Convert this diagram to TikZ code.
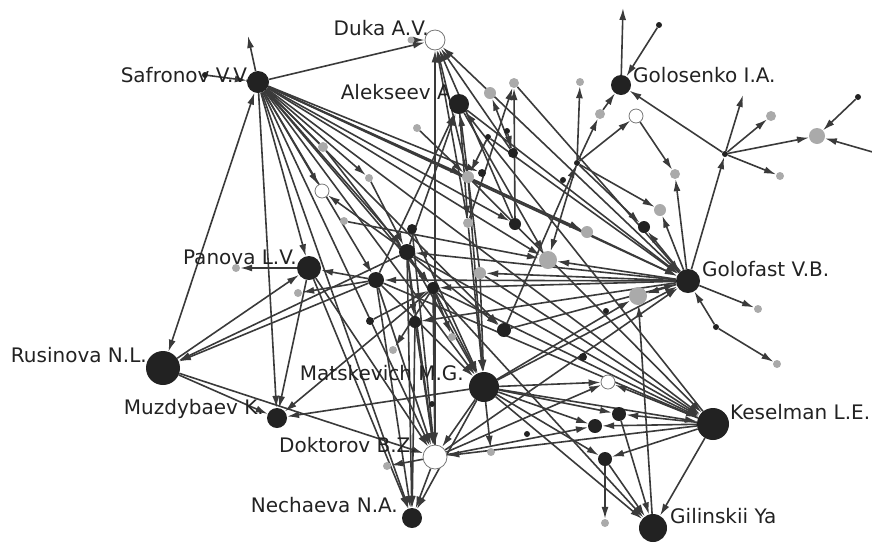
\documentclass[tikz,border=0pt]{standalone}
\usepackage{fontspec}
\setmainfont{DejaVu Sans}
\usepackage{tikz}
\usetikzlibrary{arrows.meta,backgrounds}
\definecolor{Nblk}{RGB}{34,34,34}
\definecolor{Ngry}{RGB}{170,170,170}
\definecolor{Nedg}{RGB}{58,58,58}

\begin{document}
\begin{tikzpicture}[x=1pt,y=-1pt,
    blk/.style={circle,fill=Nblk,inner sep=0pt,minimum size=#1},
    gry/.style={circle,fill=Ngry,inner sep=0pt,minimum size=#1},
    wht/.style={circle,fill=white,draw=Ngry!70!black,line width=0.8pt,inner sep=0pt,minimum size=#1},
    lbl/.style={inner sep=0pt,text=Nblk,font=\fontsize{20}{24}\selectfont},
    edge/.style={draw=Nedg,line width=1.6pt,-{Latex[length=12pt,width=7pt]}},
    bedge/.style={edge,{Latex[length=12pt,width=7pt]}-{Latex[length=12pt,width=7pt]}}]
    \useasboundingbox (0,0) rectangle (872,542);

    \node[blk=22pt] (saf) at (258,82) {};
    \node[wht=20pt] (duka) at (435,40) {};
    \node[blk=20pt] (alek) at (459,104) {};
    \node[blk=20pt] (gols) at (621,85) {};
    \node[blk=24pt] (pan) at (309,268) {};
    \node[blk=24pt] (golf) at (688,281) {};
    \node[blk=34pt] (rus) at (163,368) {};
    \node[blk=30pt] (mats) at (484,387) {};
    \node[blk=20pt] (muz) at (277,418) {};
    \node[blk=32pt] (kes) at (713,424) {};
    \node[wht=24pt] (dok) at (435,457) {};
    \node[blk=20pt] (nech) at (412,518) {};
    \node[blk=28pt] (gil) at (653,528) {};

    \node[lbl,anchor=mid east] (tsaf) at (251,80) {Safronov V.V.};
    \node[lbl,anchor=mid east] (tduka) at (429,33) {Duka A.V.};
    \node[lbl,anchor=mid east] (talek) at (451,97) {Alekseev A};
    \node[lbl,anchor=mid west] (tgols) at (633,80) {Golosenko I.A.};
    \node[lbl,anchor=mid east] (tpan) at (297,262) {Panova L.V.};
    \node[lbl,anchor=mid west] (tgolf) at (702,274) {Golofast V.B.};
    \node[lbl,anchor=mid east] (trus) at (147,360) {Rusinova N.L.};
    \node[lbl,anchor=mid east] (tmats) at (464,378) {Matskevich M.G.};
    \node[lbl,anchor=mid east] (tmuz) at (264,412) {Muzdybaev K.};
    \node[lbl,anchor=mid west] (tkes) at (730,417) {Keselman L.E.};
    \node[lbl,anchor=mid east] (tdok) at (417,450) {Doktorov B.Z.};
    \node[lbl,anchor=mid east] (tnech) at (398,510) {Nechaeva N.A.};
    \node[lbl,anchor=mid west] (tgil) at (670,521) {Gilinskii Ya};

    \foreach \n/\x/\y/\s in {ga/411/40/7pt, gb/490/93/12pt, gc/514/83/10pt, gd/580/82/8pt,
        ge/600/114/10pt, gf/771/116/10pt, gg/817/136/16pt, gh/780/176/8pt, gi/675/174/10pt,
        gj/660/210/12pt, gk/587/232/12pt, gl/468/177/12pt, gm/468/223/10pt, gn/548/260/18pt,
        go/480/273/12pt, gp/323/147/10pt, gq/369/178/8pt, gr/344/221/8pt, gs/417/128/8pt,
        gt/236/268/8pt, gu/298/293/8pt, gv/393/350/8pt, gw/452/337/8pt, gx/638/296/18pt,
        gy/758/309/8pt, gz/777/364/8pt, gaa/491/452/8pt, gab/387/466/8pt, gac/605/523/8pt}
        \node[gry=\s] (\n) at (\x,\y) {};

    \foreach \n/\x/\y/\s in {ka/205/75/6pt, kb/659/25/6pt, kc/858/97/6pt, kd/725/154/6pt,
        ke/577/163/6pt, kf/563/180/6pt, kg/513/153/10pt, kh/488/137/6pt, ki/507/131/6pt,
        kj/482/173/8pt, kk/515/224/12pt, kl/644/227/12pt, km/412/229/10pt, kn/407/252/16pt,
        ko/376/280/16pt, kp/433/288/12pt, kq/415/322/12pt, kr/370/321/8pt, ks/504/330/14pt,
        kt/606/311/6pt, ku/716/327/6pt, kv/583/357/8pt, kw/619/414/14pt, kx/595/426/14pt,
        ky/605/459/14pt, kz/432/404/6pt, kaa/527/434/6pt}
        \node[blk=\s] (\n) at (\x,\y) {};

    \node[wht=14pt] (wa) at (636,116) {};
    \node[wht=14pt] (wb) at (322,191) {};
    \node[wht=14pt] (wc) at (608,382) {};

    \coordinate (fa) at (248,36);
    \coordinate (fb) at (623,8);
    \coordinate (fc) at (743,95);
    \coordinate (fd) at (876,153);

    \begin{scope}[on background layer]
    \draw[bedge] (saf) -- (rus);
    \foreach \a/\b in {saf/fa, ka/saf, saf/duka, saf/muz, saf/pan, saf/nech, saf/dok, saf/golf,
        saf/wb, gp/saf, saf/gq, saf/kn, saf/ko, saf/kp, saf/mats, saf/gn, saf/gl, saf/kk,
        saf/kes, saf/kj, saf/gk, saf/ks,
        dok/duka, golf/duka, gl/duka, kg/duka, ga/duka, gm/duka, kk/duka,
        kn/alek, alek/golf, kes/alek, ko/alek, alek/gm, alek/gn, go/alek, gs/gl,
        kg/gb, gm/gc, kk/gc, kh/gl, ki/kg,
        gols/fb, kb/gols, ke/ge, ge/gols, ke/wa, kd/gols, wa/gi, ke/gd, ke/kl, ke/gn, ks/ke, ke/gj,
        golf/kd, kd/fc, kd/gf, kd/gg, kd/gh, kc/gg, fd/gg,
        golf/gi, golf/gj, golf/kl, golf/gy, ku/golf, ku/gz, golf/gx, golf/gn, golf/go, golf/kn,
        golf/ko, golf/kp, golf/kq, mats/golf, gc/golf, gl/golf, kh/golf, ks/golf, dok/golf,
        kes/gil, kes/dok, kes/wc, kes/kw, kes/kx, kes/ky, mats/kes, kn/kes, ko/kes, kp/kes,
        go/kes, gl/kes, gil/gx,
        mats/gil, kp/gil, ky/gil, kw/gil, ky/gac,
        mats/dok, mats/nech, mats/muz, mats/wc, mats/gaa, mats/kw, mats/kx, mats/ky, mats/gx,
        kn/mats, ko/mats, kp/mats, gm/mats, go/mats, gl/mats, km/mats,
        rus/pan, ko/rus, kn/rus, rus/muz, rus/dok,
        pan/gt, pan/muz, pan/nech, pan/dok, ko/gu, ko/pan, kp/muz,
        dok/nech, ko/nech, kq/nech, kn/nech,
        kr/kp, kp/gv, kp/gw, kn/kq, km/dok, ko/dok, kn/dok, kp/dok, kq/dok, dok/gab, dok/wc,
        dok/kx, kn/wb, gr/gn, gq/kn, gp/kp, kn/ks}
        \draw[edge] (\a) -- (\b);
    \end{scope}
\end{tikzpicture}
\end{document}
